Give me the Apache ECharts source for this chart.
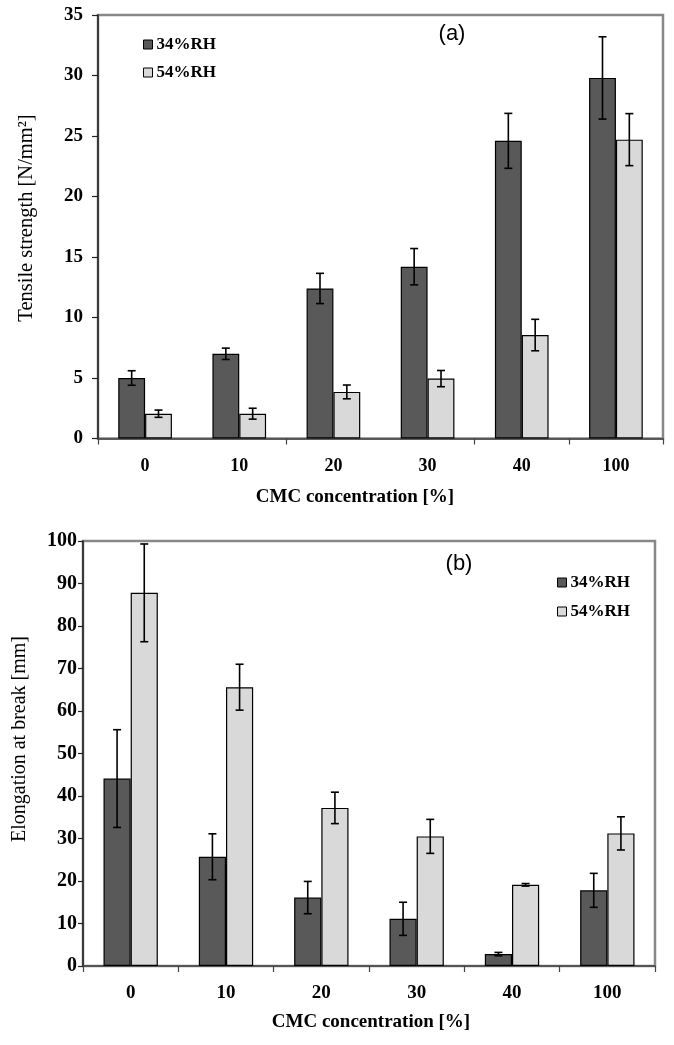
<!DOCTYPE html>
<html>
<head>
<meta charset="utf-8">
<script src="https://cdn.jsdelivr.net/npm/echarts@6/dist/echarts.min.js"></script>
<style>
html,body{margin:0;padding:0;background:#fff;}
#chart{width:674px;height:1045px;}
</style>
</head>
<body>
<div id="chart"></div>
<script>
// ---- data ----
const categories = ['0', '10', '20', '30', '40', '100'];
const seriesNames = ['34%RH', '54%RH'];

// (a) Tensile strength [N/mm²]
const tensile34 = [5.0, 7.0, 12.4, 14.2, 24.6, 29.8];
const tensile34Err = [0.6, 0.47, 1.25, 1.5, 2.27, 3.4];
const tensile54 = [2.05, 2.05, 3.85, 4.95, 8.55, 24.7];
const tensile54Err = [0.3, 0.45, 0.57, 0.67, 1.3, 2.15];

// (b) Elongation at break [mm]
const elong34 = [44.1, 25.7, 16.1, 11.1, 2.8, 17.8];
const elong34Err = [11.5, 5.4, 3.8, 3.9, 0.4, 4.0];
const elong54 = [87.8, 65.6, 37.2, 30.5, 19.1, 31.2];
const elong54Err = [11.5, 5.4, 3.7, 4.0, 0.3, 3.9];

const yTicksA = { min: 0, max: 35, interval: 5 };
const yTicksB = { min: 0, max: 100, interval: 10 };

// ---- styles ----
const DARK = '#595959';
const LIGHT = '#d9d9d9';
const GAP = 0.43;
const SERIF = "'Liberation Serif', 'Times New Roman', serif";
const SANS = "'Liberation Sans', Arial, sans-serif";

function errData(vals, errs) {
  return vals.map((v, i) => [i, v, errs[i]]);
}

function errSeries(vals, errs, side, axisIdx) {
  return {
    type: 'custom',
    xAxisIndex: axisIdx,
    yAxisIndex: axisIdx,
    z: 10,
    silent: true,
    data: errData(vals, errs),
    renderItem: function (params, api) {
      const xi = api.value(0), v = api.value(1), e = api.value(2);
      const band = api.size([1, 0])[0];
      const w = band * (1 - GAP) / 2;
      const c = api.coord([xi, v]);
      const cx = c[0] + side * w / 2;
      const hi = api.coord([xi, v + e])[1];
      const lo = api.coord([xi, v - e])[1];
      const cap = 4;
      const st = { stroke: '#000', lineWidth: 1.6 };
      return {
        type: 'group',
        children: [
          { type: 'line', shape: { x1: cx, y1: hi, x2: cx, y2: lo }, style: st },
          { type: 'line', shape: { x1: cx - cap, y1: hi, x2: cx + cap, y2: hi }, style: st },
          { type: 'line', shape: { x1: cx - cap, y1: lo, x2: cx + cap, y2: lo }, style: st }
        ]
      };
    }
  };
}

function barSeries(name, vals, color, axisIdx) {
  return {
    name: name,
    type: 'bar',
    xAxisIndex: axisIdx,
    yAxisIndex: axisIdx,
    data: vals,
    barGap: '0%',
    barCategoryGap: (GAP * 100) + '%',
    itemStyle: { color: color, borderColor: '#000', borderWidth: 1.2 },
    emphasis: { disabled: true }
  };
}

function legendCfg(left, top, gap) {
  return {
    data: seriesNames,
    orient: 'vertical',
    left: left,
    top: top,
    padding: 0,
    icon: 'rect',
    itemWidth: 9,
    itemHeight: 9,
    itemGap: gap,
    selectedMode: false,
    itemStyle: { borderColor: '#000', borderWidth: 1 },
    textStyle: { fontFamily: SERIF, fontWeight: 'bold', fontSize: 17, lineHeight: 17, color: '#000', padding: [0, 0, 0, -1] }
  };
}

const chart = echarts.init(document.getElementById('chart'), null, { renderer: 'canvas' });

const option = {
  backgroundColor: '#fff',
  animation: false,
  grid: [
    { left: 98, right: 11, top: 15, height: 423.5, show: true, borderColor: '#888', borderWidth: 2.5, backgroundColor: '#fff' },
    { left: 83, right: 19, top: 541, height: 425, show: true, borderColor: '#888', borderWidth: 2.5, backgroundColor: '#fff' }
  ],
  legend: [legendCfg(143, 36, 11), legendCfg(557, 574, 12)],
  xAxis: [
    {
      type: 'category', gridIndex: 0, data: categories,
      axisLine: { lineStyle: { color: '#444', width: 1.5 } },
      axisTick: { show: true, interval: 1, length: 6, lineStyle: { color: '#444', width: 1.2 } },
      axisLabel: { interval: 0, margin: 19, fontFamily: SERIF, fontWeight: 'bold', fontSize: 18, color: '#000' },
      splitLine: { show: false }
    },
    {
      type: 'category', gridIndex: 1, data: categories,
      axisLine: { lineStyle: { color: '#444', width: 1.5 } },
      axisTick: { show: true, interval: 0, length: 6, lineStyle: { color: '#444', width: 1.2 } },
      axisLabel: { interval: 0, margin: 18, fontFamily: SERIF, fontWeight: 'bold', fontSize: 19, color: '#000' },
      splitLine: { show: false }
    }
  ],
  yAxis: [
    {
      type: 'value', gridIndex: 0, min: yTicksA.min, max: yTicksA.max, interval: yTicksA.interval,
      axisLine: { show: true, lineStyle: { color: '#222', width: 1.5 } },
      axisTick: { show: true, length: 6, lineStyle: { color: '#222', width: 1.2 } },
      axisLabel: { margin: 15, fontFamily: SERIF, fontWeight: 'bold', fontSize: 19, color: '#000' },
      splitLine: { show: false }
    },
    {
      type: 'value', gridIndex: 1, min: yTicksB.min, max: yTicksB.max, interval: yTicksB.interval,
      axisLine: { show: true, lineStyle: { color: '#222', width: 1.5 } },
      axisTick: { show: true, length: 5, lineStyle: { color: '#222', width: 1.2 } },
      axisLabel: { margin: 6, fontFamily: SERIF, fontWeight: 'bold', fontSize: 20, color: '#000' },
      splitLine: { show: false }
    }
  ],
  series: [
    barSeries(seriesNames[0], tensile34, DARK, 0),
    barSeries(seriesNames[1], tensile54, LIGHT, 0),
    errSeries(tensile34, tensile34Err, -1, 0),
    errSeries(tensile54, tensile54Err, 1, 0),
    barSeries(seriesNames[0], elong34, DARK, 1),
    barSeries(seriesNames[1], elong54, LIGHT, 1),
    errSeries(elong34, elong34Err, -1, 1),
    errSeries(elong54, elong54Err, 1, 1)
  ],
  graphic: [
    { type: 'text', x: 452, y: 34, style: { text: '(a)', fontFamily: SANS, fontSize: 22, fill: '#000', align: 'center', verticalAlign: 'middle' } },
    { type: 'text', x: 459, y: 564, style: { text: '(b)', fontFamily: SANS, fontSize: 22, fill: '#000', align: 'center', verticalAlign: 'middle' } },
    { type: 'text', x: 27, y: 218, rotation: Math.PI / 2, style: { text: 'Tensile strength [N/mm²]', fontFamily: SERIF, fontSize: 20.5, fill: '#000', align: 'center', verticalAlign: 'middle' } },
    { type: 'text', x: 20, y: 739, rotation: Math.PI / 2, style: { text: 'Elongation at break [mm]', fontFamily: SERIF, fontSize: 20, fill: '#000', align: 'center', verticalAlign: 'middle' } },
    { type: 'text', x: 355, y: 497, style: { text: 'CMC concentration [%]', fontFamily: SERIF, fontWeight: 'bold', fontSize: 19, fill: '#000', align: 'center', verticalAlign: 'middle' } },
    { type: 'text', x: 371, y: 1022, style: { text: 'CMC concentration [%]', fontFamily: SERIF, fontWeight: 'bold', fontSize: 19, fill: '#000', align: 'center', verticalAlign: 'middle' } }
  ]
};

chart.setOption(option);
</script>
</body>
</html>
